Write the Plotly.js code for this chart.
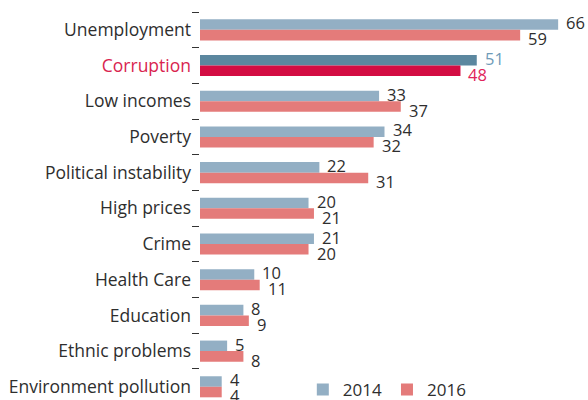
<!DOCTYPE html>
<html>
<head>
<meta charset="utf-8">
<script src="https://cdn.plot.ly/plotly-3.0.1.min.js"></script>
<style>html,body{margin:0;padding:0;background:#fff}#chart{width:588px;height:400px}</style>
</head>
<body>
<div id="chart"></div>
<script>
const categories = ["Unemployment","Corruption","Low incomes","Poverty","Political instability","High prices","Crime","Health Care","Education","Ethnic problems","Environment pollution"];
const values2014 = [66,51,33,34,22,20,21,10,8,5,4];
const values2016 = [59,48,37,32,31,21,20,11,9,8,4];
const seriesNames = ["2014","2016"];
const highlight = "Corruption";

const FONT = "Open Sans, sans-serif";
const TXT = "#2e2e2e";
const c14 = "#93afc4", c16 = "#e47b7a", c14h = "#5b879f", c16h = "#d30d43";
const t14h = "#6f9bb8", t16h = "#e0245a";

const col14 = categories.map(c => c === highlight ? c14h : c14);
const col16 = categories.map(c => c === highlight ? c16h : c16);

const traces = [
  {type:"bar", orientation:"h", name:seriesNames[0], y:categories, x:values2014,
   marker:{color:col14}, hoverinfo:"x+y", cliponaxis:false},
  {type:"bar", orientation:"h", name:seriesNames[1], y:categories, x:values2016,
   marker:{color:col16}, hoverinfo:"x+y", cliponaxis:false}
];

const annotations = [];
categories.forEach((c,i) => {
  annotations.push({x:values2014[i], y:c, xref:"x", yref:"y", text:String(values2014[i]),
    showarrow:false, xanchor:"left", yanchor:"middle", xshift:6, yshift:7,
    font:{family:FONT, size:16.5, color: c===highlight ? t14h : TXT}});
  annotations.push({x:values2016[i], y:c, xref:"x", yref:"y", text:String(values2016[i]),
    showarrow:false, xanchor:"left", yanchor:"middle", xshift:6, yshift:-9,
    font:{family:FONT, size:16.5, color: c===highlight ? t16h : TXT}});
});

const ticktext = categories.map(c => c === highlight ? '<span style="color:#d9244f">'+c+'</span>' : c);

const layout = {
  width:588, height:400,
  margin:{l:200, r:0, t:12, b:0, pad:0, autoexpand:false},
  paper_bgcolor:"#fff", plot_bgcolor:"#fff",
  barmode:"group", bargap:0.41, bargroupgap:0,
  font:{family:FONT, size:16, color:TXT},
  showlegend:true,
  legend:{orientation:"h", x:0.265, xanchor:"left", y:0.026, yanchor:"middle",
    font:{family:FONT, size:17, color:TXT}, bgcolor:"rgba(0,0,0,0)", traceorder:"normal"},
  xaxis:{range:[0,71.5], visible:false, fixedrange:true},
  yaxis:{type:"category", autorange:false, range:[10.37,-0.5],
    tickmode:"array", tickvals:categories, ticktext:ticktext,
    tickson:"boundaries", ticks:"outside", ticklen:7, tickwidth:1, tickcolor:"#333",
    ticklabelstandoff:8,
    showline:false, showgrid:false, zeroline:false,
    tickfont:{family:FONT, size:17.5, color:TXT}},
  annotations:annotations
};

Plotly.newPlot("chart", traces, layout, {displayModeBar:false, staticPlot:true});
</script>
</body>
</html>
